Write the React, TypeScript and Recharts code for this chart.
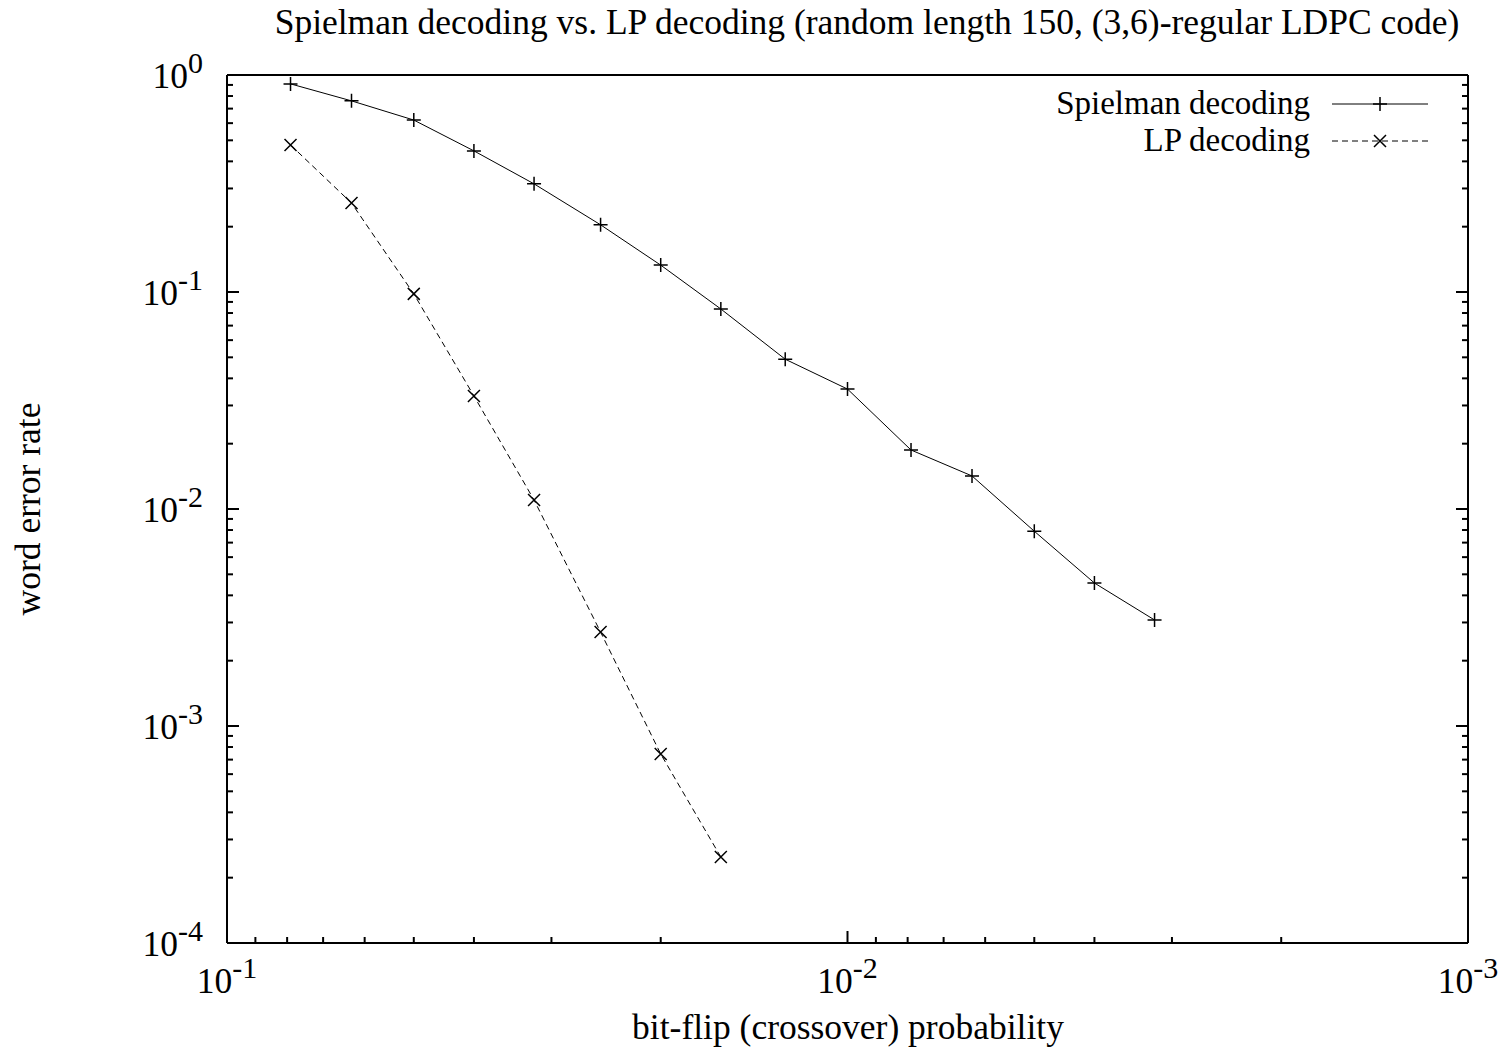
import { LineChart, Line, XAxis, YAxis, Legend } from "recharts";

// bit-flip probability (x) and word error rates
const crossoverProb = [
  0.079, 0.063, 0.05, 0.04, 0.032, 0.025, 0.02, 0.016, 0.0126, 0.01, 0.0079, 0.0063, 0.005, 0.004,
  0.0032,
];
const spielmanWer = [
  0.91, 0.76, 0.62, 0.447, 0.315, 0.204, 0.133, 0.0835, 0.049, 0.0357, 0.0187, 0.0142, 0.0079,
  0.00456, 0.00308,
];
const lpWer = [0.476, 0.257, 0.098, 0.0332, 0.011, 0.00271, 0.000743, 0.000249];

const seriesNames = ["Spielman decoding", "LP decoding"];

const xDecades = [0.1, 0.01, 0.001];
const yDecades = [1, 0.1, 0.01, 0.001, 0.0001];
const minorSteps = [2, 3, 4, 5, 6, 7, 8, 9];

const withMinors = (decades: number[]) => {
  const out = [...decades];
  const sorted = [...decades].sort((a, b) => a - b);
  for (let i = 0; i < sorted.length - 1; i++) {
    minorSteps.forEach((m) => out.push(sorted[i] * m));
  }
  return out;
};

const xTicks = withMinors(xDecades);
const yTicks = withMinors(yDecades);

const data = crossoverProb.map((p, i) => ({
  p,
  spielman: spielmanWer[i],
  lp: i < lpWer.length ? lpWer[i] : undefined,
}));

const FONT = "'Liberation Serif', 'Times New Roman', serif";
const FONT_SIZE = 35.5;
const LEGEND_SIZE = 33;
const LEGEND_ROW = 37;
const SUP_SIZE = 30;
const MAJOR = 12;
const MINOR = 6;
const DASH = "6 4";

const isMajor = (v: number) => {
  const l = Math.log10(v);
  return Math.abs(l - Math.round(l)) < 1e-6;
};

const Power = ({ x, y, v, anchor }: { x: number; y: number; v: number; anchor: string }) => (
  <text x={x} y={y} textAnchor={anchor} fontFamily={FONT} fontSize={FONT_SIZE} fill="#000">
    10
    <tspan dy={-15} fontSize={SUP_SIZE}>
      {String(Math.round(Math.log10(v)))}
    </tspan>
  </text>
);

const BottomTick = (props: any) => {
  const { x, y, payload } = props;
  const major = isMajor(payload.value);
  return (
    <g>
      <line x1={x} x2={x} y1={y} y2={y - (major ? MAJOR : MINOR)} stroke="#000" strokeWidth={2} />
      {major && <Power x={x} y={y + 50} v={payload.value} anchor="middle" />}
    </g>
  );
};

const TopTick = (props: any) => {
  const { x, y, payload } = props;
  const major = isMajor(payload.value);
  return (
    <line x1={x} x2={x} y1={y} y2={y + (major ? MAJOR : MINOR)} stroke="#000" strokeWidth={2} />
  );
};

const LeftTick = (props: any) => {
  const { x, y, payload } = props;
  const major = isMajor(payload.value);
  return (
    <g>
      <line x1={x} x2={x + (major ? MAJOR : MINOR)} y1={y} y2={y} stroke="#000" strokeWidth={2} />
      {major && <Power x={x - 24} y={y + 13} v={payload.value} anchor="end" />}
    </g>
  );
};

const RightTick = (props: any) => {
  const { x, y, payload } = props;
  const major = isMajor(payload.value);
  return (
    <line x1={x} x2={x - (major ? MAJOR : MINOR)} y1={y} y2={y} stroke="#000" strokeWidth={2} />
  );
};

const plusPath = (cx: number, cy: number, r: number) =>
  `M${cx - r},${cy}H${cx + r}M${cx},${cy - r}V${cy + r}`;
const crossPath = (cx: number, cy: number, r: number) =>
  `M${cx - r},${cy - r}L${cx + r},${cy + r}M${cx - r},${cy + r}L${cx + r},${cy - r}`;

const makeDot = (kind: "plus" | "cross") => (props: any) => {
  const { cx, cy, index } = props;
  if (cx == null || cy == null || !isFinite(cy)) return <g key={`${kind}-${index}`} />;
  const d = kind === "plus" ? plusPath(cx, cy, 7) : crossPath(cx, cy, 6);
  return <path key={`${kind}-${index}`} d={d} stroke="#000" strokeWidth={1.5} fill="none" />;
};

const legendOrder = ["spielman", "lp"];
const legendStyles: Record<string, { dash?: string; kind: "plus" | "cross" }> = {
  spielman: { kind: "plus" },
  lp: { dash: DASH, kind: "cross" },
};

const renderLegend = (props: any) => {
  const payload = [...(props.payload || [])].sort(
    (a: any, b: any) => legendOrder.indexOf(a.dataKey) - legendOrder.indexOf(b.dataKey)
  );
  return (
    <div style={{ fontFamily: FONT, fontSize: LEGEND_SIZE, color: "#000" }}>
      {payload.map((entry: any) => {
        const st = legendStyles[entry.dataKey];
        return (
          <div
            key={entry.dataKey}
            style={{
              display: "flex",
              alignItems: "center",
              justifyContent: "flex-end",
              height: LEGEND_ROW,
            }}
          >
            <span style={{ lineHeight: `${LEGEND_ROW}px`, whiteSpace: "nowrap" }}>{entry.value}</span>
            <svg width={96} height={20} style={{ marginLeft: 22 }}>
              <line x1={0} x2={96} y1={10} y2={10} stroke="#000" strokeWidth={1} strokeDasharray={st.dash} />
              <path
                d={st.kind === "plus" ? plusPath(48, 10, 7) : crossPath(48, 10, 6)}
                stroke="#000"
                strokeWidth={1.5}
                fill="none"
              />
            </svg>
          </div>
        );
      })}
    </div>
  );
};

export default function App() {
  return (
    <div style={{ position: "absolute", left: 0, top: 0, width: 1506, height: 1048, background: "#fff" }}>
      <LineChart
        width={1506}
        height={1048}
        data={data}
        margin={{ top: 74, right: 37, bottom: 45, left: 147 }}
      >
        <XAxis
          xAxisId="b"
          dataKey="p"
          type="number"
          scale="log"
          domain={[0.001, 0.1]}
          allowDataOverflow
          reversed
          ticks={xTicks}
          interval={0}
          height={60}
          tickSize={0}
          tickMargin={0}
          tickLine={false}
          axisLine={{ stroke: "#000", strokeWidth: 2 }}
          tick={BottomTick}
        />
        <XAxis
          xAxisId="t"
          orientation="top"
          type="number"
          scale="log"
          domain={[0.001, 0.1]}
          allowDataOverflow
          reversed
          ticks={xTicks}
          interval={0}
          height={1}
          tickSize={0}
          tickMargin={0}
          tickLine={false}
          axisLine={{ stroke: "#000", strokeWidth: 2 }}
          tick={TopTick}
        />
        <YAxis
          yAxisId="l"
          type="number"
          scale="log"
          domain={[0.0001, 1]}
          allowDataOverflow
          ticks={yTicks}
          interval={0}
          width={80}
          tickSize={0}
          tickMargin={0}
          tickLine={false}
          axisLine={{ stroke: "#000", strokeWidth: 2 }}
          tick={LeftTick}
        />
        <YAxis
          yAxisId="r"
          orientation="right"
          type="number"
          scale="log"
          domain={[0.0001, 1]}
          allowDataOverflow
          ticks={yTicks}
          interval={0}
          width={1}
          tickSize={0}
          tickMargin={0}
          tickLine={false}
          axisLine={{ stroke: "#000", strokeWidth: 2 }}
          tick={RightTick}
        />
        <Legend
          layout="horizontal"
          align="center"
          verticalAlign="middle"
          content={renderLegend}
          wrapperStyle={{ top: 85, right: 78, left: "auto", width: "auto" }}
        />
        <Line
          xAxisId="b"
          yAxisId="l"
          type="linear"
          dataKey="spielman"
          name={seriesNames[0]}
          stroke="#000"
          strokeWidth={1}
          dot={makeDot("plus")}
          activeDot={false}
          isAnimationActive={false}
        />
        <Line
          xAxisId="b"
          yAxisId="l"
          type="linear"
          dataKey="lp"
          name={seriesNames[1]}
          stroke="#000"
          strokeWidth={1}
          strokeDasharray={DASH}
          dot={makeDot("cross")}
          activeDot={false}
          isAnimationActive={false}
        />
      </LineChart>
      <svg
        width={1506}
        height={1048}
        style={{ position: "absolute", left: 0, top: 0, pointerEvents: "none" }}
      >
        <text x={867} y={34} textAnchor="middle" fontFamily={FONT} fontSize={FONT_SIZE} fill="#000">
          Spielman decoding vs. LP decoding (random length 150, (3,6)-regular LDPC code)
        </text>
        <text x={848} y={1039} textAnchor="middle" fontFamily={FONT} fontSize={FONT_SIZE} fill="#000">
          bit-flip (crossover) probability
        </text>
        <text
          x={0}
          y={0}
          transform="translate(40, 509) rotate(-90)"
          textAnchor="middle"
          fontFamily={FONT}
          fontSize={FONT_SIZE}
          fill="#000"
        >
          word error rate
        </text>
      </svg>
    </div>
  );
}
